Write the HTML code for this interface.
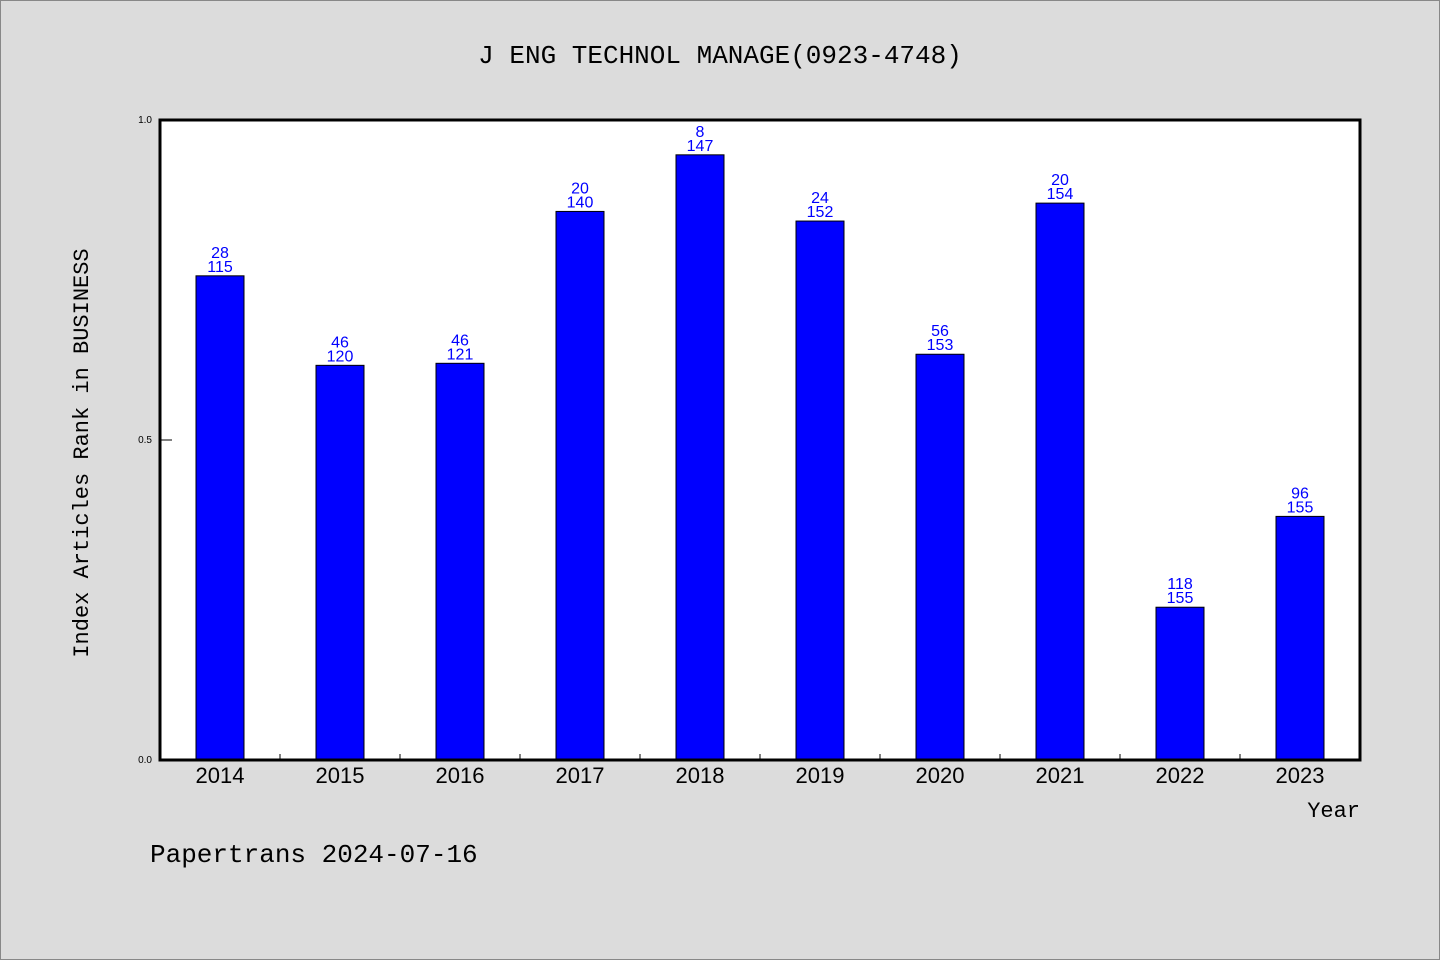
<!DOCTYPE html>
<html><head><meta charset="utf-8"><style>
html,body{margin:0;padding:0;background:#dcdcdc;}
svg{display:block;font-family:"Liberation Sans","WenQuanYi Zen Hei",sans-serif;}
</style></head><body>
<svg id="chart" width="1440" height="960" viewBox="0 0 1440 960">
<rect x="0.5" y="0.5" width="1439" height="959" fill="#dcdcdc" stroke="#888"/>
<text x="720" y="63" text-anchor="middle" font-size="26" font-family="Liberation Mono, monospace">J ENG TECHNOL MANAGE(0923-4748)</text>
<rect x="160" y="120" width="1200" height="640" fill="#fff"/>
<g id="bars"></g>
<rect x="160" y="120" width="1200" height="640" fill="none" stroke="#000" stroke-width="3"/>
<g id="axes"></g>
<text transform="translate(88,453) rotate(-90)" text-anchor="middle" font-size="22" font-family="Liberation Mono, monospace">Index Articles Rank in BUSINESS</text>
<text x="1360" y="817" text-anchor="end" font-size="22" font-family="Liberation Mono, monospace">Year</text>
<text x="150" y="862" font-size="26" font-family="Liberation Mono, monospace">Papertrans 2024-07-16</text>
</svg>
<script>
const years = ["2014","2015","2016","2017","2018","2019","2020","2021","2022","2023"];
const ranks = [28,46,46,20,8,24,56,20,118,96];
const totals = [115,120,121,140,147,152,153,154,155,155];
const yTicks = [0.0,0.5,1.0];
const NS="http://www.w3.org/2000/svg";
const X0=160,W=1200,Y0=760,H=640;
const step=W/years.length;
const xc=i=>X0+step*(i+0.5);
const y=v=>Y0-v*H;
const bars=document.getElementById('bars'),axes=document.getElementById('axes');
function mk(tag,attrs,parent){const e=document.createElementNS(NS,tag);for(const k in attrs)e.setAttribute(k,attrs[k]);parent.appendChild(e);return e;}
years.forEach((yr,i)=>{
  const v=(totals[i]-ranks[i])/totals[i];
  const r=mk('rect',{x:xc(i)-24,y:y(v),width:48,height:Y0-y(v),fill:'#0000ff',stroke:'#000','stroke-width':1},bars);
  
  
  const t1=mk('text',{x:xc(i),y:y(v)-18,'text-anchor':'middle','font-size':16,fill:'#0000ff'},bars);
  t1.textContent=ranks[i];
  
  
  const t2=mk('text',{x:xc(i),y:y(v)-4,'text-anchor':'middle','font-size':16,fill:'#0000ff'},bars);
  t2.textContent=totals[i];
  
  
  const xl=mk('text',{x:xc(i),y:783,'text-anchor':'middle','font-size':22},axes);
  xl.textContent=yr;
  
  
  if(i>0){
    const tk=mk('line',{x1:X0+step*i,x2:X0+step*i,y1:Y0,y2:Y0-6,stroke:'#000','stroke-width':1},axes);
    
    
  }
});
yTicks.forEach(v=>{
  const t=mk('text',{x:152,y:y(v)+3,'text-anchor':'end','font-size':10},axes);
  t.textContent=v.toFixed(1);
  
  
  if(v>0&&v<1){
    const l=mk('line',{x1:X0,x2:X0+12,y1:y(v),y2:y(v),stroke:'#000','stroke-width':1},axes);
    
    
  }
});
</script>
</body></html>
